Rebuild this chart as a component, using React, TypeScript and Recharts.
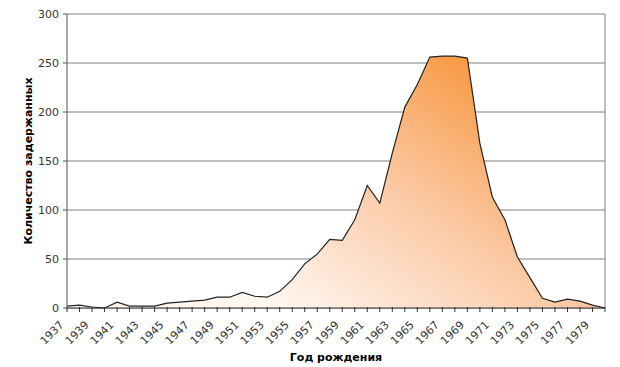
import { AreaChart, Area, XAxis, YAxis, CartesianGrid, ReferenceLine } from "recharts";

const years = [
  "1937", "1938", "1939", "1940", "1941", "1942", "1943", "1944", "1945", "1946",
  "1947", "1948", "1949", "1950", "1951", "1952", "1953", "1954", "1955", "1956",
  "1957", "1958", "1959", "1960", "1961", "1962", "1963", "1964", "1965", "1966",
  "1967", "1968", "1969", "1970", "1971", "1972", "1973", "1974", "1975", "1976",
  "1977", "1978", "1979", "1980",
];

const detained = [
  2, 3, 1, 0, 6, 2, 2, 2, 5, 6,
  7, 8, 11, 11, 16, 12, 11, 17, 29, 45,
  55, 70, 69, 90, 125, 107, 158, 205, 228, 256,
  257, 257, 255, 168, 113, 90, 52, 31, 10, 6,
  9, 7, 3, 0,
];

const yTicks = [0, 50, 100, 150, 200, 250, 300];

const data = years.map((year, i) => ({ year, count: detained[i] }));

const font = "'DejaVu Sans', Verdana, sans-serif";

// every year gets a tick mark, only every second year gets a label
function YearTick(props: any) {
  const { x, y, payload, index } = props;
  const tx = x - 5;
  const ty = y + 9;
  return (
    <g>
      <line x1={x} x2={x} y1={y - 7} y2={y - 2} stroke="#333" />
      {index % 2 === 0 && (
        <text
          x={tx}
          y={ty}
          transform={`rotate(-45, ${tx}, ${ty})`}
          textAnchor="end"
          dominantBaseline="central"
          fontSize={11}
          fontFamily={font}
          fill="#333"
        >
          {payload.value}
        </text>
      )}
    </g>
  );
}

export default function App() {
  return (
    <div style={{ position: "absolute", left: 0, top: 0, background: "#fff" }}>
      <AreaChart
        width={620}
        height={367}
        data={data}
        margin={{ top: 14, right: 15, left: 0, bottom: 0 }}
      >
        <defs>
          <linearGradient id="orangeFill" gradientUnits="userSpaceOnUse" x1="480" y1="50" x2="300" y2="320">
            <stop offset="0%" stopColor="#F7953A" />
            <stop offset="50%" stopColor="#FBC9A4" />
            <stop offset="100%" stopColor="#FFF6F0" />
          </linearGradient>
        </defs>
        <CartesianGrid vertical={false} stroke="#808080" />
        <XAxis
          dataKey="year"
          interval={0}
          height={59}
          tickSize={4}
          tickMargin={2}
          tickLine={false}
          tick={<YearTick />}
          axisLine={{ stroke: "#333" }}
          label={{
            value: "Год рождения",
            position: "insideBottom",
            offset: 6,
            style: { fontFamily: font, fontSize: 11, fontWeight: "bold", fill: "#000" },
          }}
        />
        <YAxis
          width={67}
          domain={[0, 300]}
          ticks={yTicks}
          tickSize={4}
          tickMargin={4}
          axisLine={{ stroke: "#555" }}
          tickLine={{ stroke: "#555" }}
          tick={{ fontSize: 11, fontFamily: font, fill: "#333" }}
          label={{
            value: "Количество задержанных",
            angle: -90,
            position: "insideLeft",
            offset: 28,
            style: { fontFamily: font, fontSize: 11, fontWeight: "bold", fill: "#000", textAnchor: "middle" },
          }}
        />
        <ReferenceLine x="1980" stroke="#808080" />
        <Area
          type="linear"
          dataKey="count"
          stroke="#222"
          strokeWidth={1.2}
          fill="url(#orangeFill)"
          fillOpacity={1}
          isAnimationActive={false}
          dot={false}
          activeDot={false}
        />
      </AreaChart>
    </div>
  );
}
